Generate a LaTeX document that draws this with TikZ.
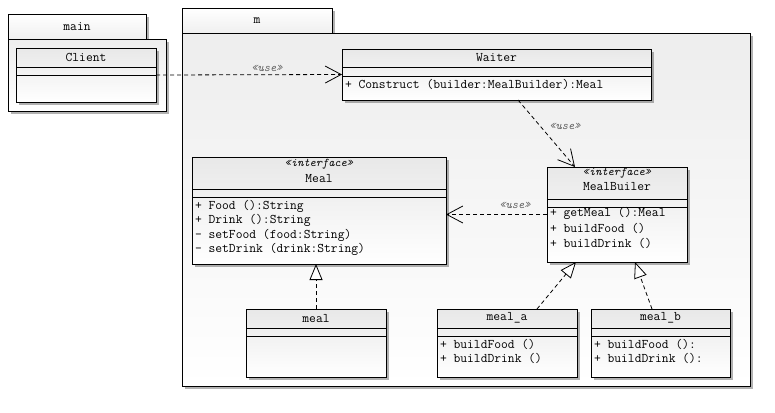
\documentclass[tikz,border=0pt]{standalone}
\usepackage{fontspec}
\newfontfamily\umlfont{Latin Modern Mono}
\usetikzlibrary{arrows.meta,shadows,calc}
\newcommand\compart[2]{\draw[line width=0.8bp] ($(#1.north west)+(0,#2)$) -- ($(#1.north east)+(0,#2)$);}
\begin{document}
\begin{tikzpicture}[x=1bp,y=-1bp,
  every node/.style={font=\umlfont\fontsize{13.2bp}{14bp}\selectfont, inner sep=0pt, outer sep=0pt},
  classbox/.style={draw, line width=0.8bp, top color=gray!18, bottom color=white, anchor=north west,
    drop shadow={shadow xshift=2.5bp, shadow yshift=-2.5bp, opacity=0.3, fill=black}},
  pkgbody/.style={draw, line width=0.8bp, top color=gray!14, bottom color=white, anchor=north west,
    drop shadow={shadow xshift=2.5bp, shadow yshift=-2.5bp, opacity=0.3, fill=black}},
  pkgtab/.style={draw, line width=0.8bp, top color=white, bottom color=gray!12, anchor=north west,
    drop shadow={shadow xshift=2.5bp, shadow yshift=-2.5bp, opacity=0.3, fill=black}},
  member/.style={anchor=west},
  stereo/.style={font=\umlfont\fontsize{11.8bp}{12bp}\selectfont\itshape},
  uselabel/.style={font=\umlfont\fontsize{11.8bp}{12bp}\selectfont\itshape, text=gray!75!black},
  usearrow/.style={draw, line width=0.8bp, dash pattern=on 4bp off 3bp, -{Straight Barb[length=16bp,width=17bp,line width=0.8bp]}},
  realarrow/.style={draw, line width=0.8bp, dash pattern=on 4bp off 3bp, -{Triangle[length=16bp,width=13bp,fill=white,line width=0.8bp]}}
]
\useasboundingbox[fill=white] (0,0) rectangle (775,412);

% package main
\node[pkgtab, minimum width=138bp, minimum height=25bp] (maintab) at (8,14) {};
\node[pkgbody, minimum width=158bp, minimum height=72bp] (mainbody) at (8,39) {};
\node (mainlabel) at (maintab.center) {main};

% package m
\node[pkgtab, minimum width=150bp, minimum height=25bp] (mtab) at (182,8) {};
\node[pkgbody, minimum width=568bp, minimum height=353bp] (mbody) at (182,33) {};
\node (mlabel) at (mtab.center) {m};

% Client
\node[classbox, minimum width=140bp, minimum height=54bp] (client) at (16,48) {};
\node (clientname) at (86,57) {Client};
\compart{client}{19}
\compart{client}{27}

% Waiter
\node[classbox, minimum width=309bp, minimum height=51bp] (waiter) at (342,49) {};
\node (waitername) at (496.5,58) {Waiter};
\compart{waiter}{18}
\compart{waiter}{27}
\node[member] (w1) at (345,84) {+ Construct (builder:MealBuilder):Meal};

% Meal
\node[classbox, minimum width=254bp, minimum height=107bp] (Meal) at (192,157) {};
\node[stereo] (mealst) at (319,164) {«interface»};
\node (mealname) at (319,178) {Meal};
\compart{Meal}{32}
\compart{Meal}{40}
\node[member] (m1) at (195,206) {+ Food ():String};
\node[member] (m2) at (195,220) {+ Drink ():String};
\node[member] (m3) at (195,235) {- setFood (food:String)};
\node[member] (m4) at (195,249) {- setDrink (drink:String)};

% MealBuiler
\node[classbox, minimum width=140bp, minimum height=95bp] (mb) at (547,167) {};
\node[stereo] (mbst) at (617,173) {«interface»};
\node (mbname) at (617,186) {MealBuiler};
\compart{mb}{32}
\compart{mb}{40}
\node[member] (b1) at (550,213) {+ getMeal ():Meal};
\node[member] (b2) at (550,228) {+ buildFood ()};
\node[member] (b3) at (550,243) {+ buildDrink ()};

% meal
\node[classbox, minimum width=140bp, minimum height=68bp] (mealc) at (246,309) {};
\node (mealcname) at (316,318) {meal};
\compart{mealc}{19}
\compart{mealc}{27}

% meal_a
\node[classbox, minimum width=140bp, minimum height=68bp] (meala) at (437,309) {};
\node (mealaname) at (507,318) {meal\_a};
\compart{meala}{19}
\compart{meala}{27}
\node[member] (a1) at (440,344) {+ buildFood ()};
\node[member] (a2) at (440,358) {+ buildDrink ()};

% meal_b
\node[classbox, minimum width=139bp, minimum height=68bp] (mealb) at (591,309) {};
\node (mealbname) at (660.5,318) {meal\_b};
\compart{mealb}{19}
\compart{mealb}{27}
\node[member] (c1) at (594,344) {+ buildFood ():};
\node[member] (c2) at (594,358) {+ buildDrink ():};

% connectors
\draw[usearrow] (client.east) -- (waiter.west);
\node[uselabel] (u1) at (267,68) {«use»};
\draw[usearrow] ([xshift=176bp]waiter.south west) -- ([xshift=28bp]mb.north west);
\node[uselabel] (u2) at (565,126) {«use»};
\draw[usearrow] (mb.west) -- (mb.west -| Meal.east);
\node[uselabel] (u3) at (515,205) {«use»};
\draw[realarrow] (mealc.north) -- (mealc.north |- Meal.south);
\draw[realarrow] ([xshift=100bp]meala.north west) -- ([xshift=29bp]mb.south west);
\draw[realarrow] ([xshift=61bp]mealb.north west) -- ([xshift=88bp]mb.south west);
\end{tikzpicture}
\end{document}
